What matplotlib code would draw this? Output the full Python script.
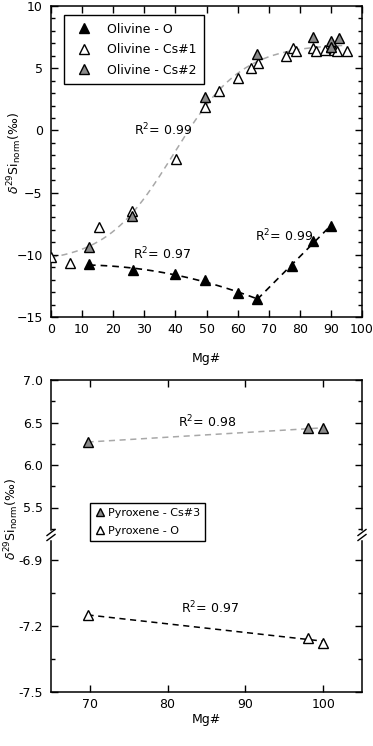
import numpy as np
import matplotlib
matplotlib.use('Agg')
import matplotlib.pyplot as plt
from matplotlib.ticker import MultipleLocator, FormatStrFormatter

# olivine data (Mg#, d29Si)
ol_o_x = [12.2, 26.3, 39.8, 49.4, 60.0, 66.3, 77.6, 84.3, 90.0]
ol_o_y = [-10.75, -11.25, -11.55, -12.05, -13.05, -13.55, -10.9, -8.9, -7.7]

ol_cs1_x = [0.0, 6.2, 15.5, 26.2, 40.1, 49.4, 54.0, 60.0, 64.2, 66.4, 75.6, 77.7, 78.8,
            84.3, 85.2, 88.1, 90.0, 91.1, 91.9, 95.1]
ol_cs1_y = [-10.2, -10.65, -7.8, -6.45, -2.3, 1.9, 3.2, 4.2, 5.05, 5.4, 6.0, 6.6, 6.4,
            6.65, 6.4, 6.45, 6.7, 6.5, 6.4, 6.4]

ol_cs2_x = [12.3, 26.2, 49.4, 66.3, 84.3, 90.0, 92.6, 90.0]
ol_cs2_y = [-9.35, -6.9, 2.7, 6.15, 7.5, 7.2, 7.4, 6.7]

# pyroxene data
px_cs3_x = [69.7, 98.1, 100.0]
px_cs3_y = [6.27, 6.43, 6.435]
px_o_x = [69.7, 98.1, 100.0]
px_o_y = [-7.15, -7.255, -7.275]

ylabel = r'$\delta^{29}$Si$_{\rm norm}$(‰)'
grey = '#8a8a8a'
dash_grey = '#a8a8a8'

plt.rcParams['font.family'] = ['DejaVu Sans']
plt.rcParams['font.size'] = 9

fig = plt.figure(figsize=(3.73, 7.46), dpi=100)
W, H = 373.0, 746.0


def box(x0, y0, x1, y1):
    return [x0 / W, 1 - y1 / H, (x1 - x0) / W, (y1 - y0) / H]


def style(ax):
    ax.tick_params(which='both', direction='in', top=True, right=True, labelsize=9,
                   width=1)
    ax.tick_params(axis='y', pad=6)
    ax.tick_params(axis='x', pad=4)
    ax.tick_params(which='major', length=5)
    ax.tick_params(which='minor', length=3)
    for s in ax.spines.values():
        s.set_linewidth(1.1)


def sigmoid_fit(x, y):
    # logistic y = a + b / (1 + exp(-(x - c) / d)), grid over c, d + linear lsq for a, b
    best = None
    for c in np.arange(20, 60, 0.25):
        for d in np.arange(4, 25, 0.25):
            s = 1 / (1 + np.exp(-(x - c) / d))
            A = np.column_stack([np.ones_like(s), s])
            coef, res, _, _ = np.linalg.lstsq(A, y, rcond=None)
            err = np.sum((A @ coef - y) ** 2)
            if best is None or err < best[0]:
                best = (err, coef, c, d)
    _, (a, b), c, d = best
    return lambda t: a + b / (1 + np.exp(-(t - c) / d))


# ---- top panel: olivine
ax = fig.add_axes(box(51, 6, 362, 317))
style(ax)

cs_x = np.array(ol_cs1_x + ol_cs2_x)
cs_y = np.array(ol_cs1_y + ol_cs2_y)
f = sigmoid_fit(cs_x, cs_y)
xx = np.linspace(0, 95, 200)
ax.plot(xx, f(xx), ls=(0, (4, 3)), color=dash_grey, lw=1.1, zorder=1)

ox = np.array(ol_o_x)
oy = np.array(ol_o_y)
p1 = np.polyfit(ox[:6], oy[:6], 2)
xx = np.linspace(ox[0], ox[5], 100)
ax.plot(xx, np.polyval(p1, xx), ls=(0, (4, 3)), color='black', lw=1.2, zorder=1)
p2 = np.polyfit(ox[5:], oy[5:], 1)
xx = np.linspace(ox[5], ox[-1], 50)
ax.plot(xx, np.polyval(p2, xx), ls=(0, (4, 3)), color='black', lw=1.2, zorder=1)

ms = 6.5
ax.plot(ol_o_x, ol_o_y, '^', color='black', mec='black', ms=ms, label='Olivine - O', zorder=3)
ax.plot(ol_cs1_x, ol_cs1_y, '^', mfc='white', mec='black', mew=1, ms=ms,
        label='Olivine - Cs#1', zorder=3)
ax.plot(ol_cs2_x, ol_cs2_y, '^', mfc=grey, mec='black', mew=1, ms=ms,
        label='Olivine - Cs#2', zorder=3)

ax.text(26.8, 0, r'R$^2$= 0.99', va='center', ha='left', fontsize=9)
ax.text(26.5, -9.9, r'R$^2$= 0.97', va='center', ha='left', fontsize=9)
ax.text(65.5, -8.5, r'R$^2$= 0.99', va='center', ha='left', fontsize=9)

ax.set_xlim(0, 100)
ax.set_ylim(-15, 10)
ax.xaxis.set_major_locator(MultipleLocator(10))
ax.yaxis.set_major_locator(MultipleLocator(5))
ax.yaxis.set_minor_locator(MultipleLocator(1))
ax.set_xlabel('Mg#', labelpad=12)
fig.text(15 / W, 1 - 153 / H, ylabel, rotation=90, ha='center', va='center', fontsize=9)
leg = ax.legend(loc='upper left', bbox_to_anchor=(0.042, 0.971), borderaxespad=0,
                fancybox=False, edgecolor='black', framealpha=1, fontsize=9,
                handletextpad=0.8, borderpad=0.6, labelspacing=0.6)
leg.get_frame().set_linewidth(1)

# ---- bottom panel: pyroxene with broken y axis
brk = 535
axu = fig.add_axes(box(51, 380, 362, brk))
axl = fig.add_axes(box(51, brk, 362, 692))
for a in (axu, axl):
    style(a)
    a.set_xlim(65, 105)
    a.xaxis.set_major_locator(MultipleLocator(10))
axu.spines['bottom'].set_visible(False)
axl.spines['top'].set_visible(False)
axu.tick_params(which='both', bottom=False, labelbottom=False)
axl.tick_params(which='both', top=False)

axu.set_ylim(7.0 - 155 / 85.0, 7.0)
axu.yaxis.set_major_locator(MultipleLocator(0.5))
axu.yaxis.set_minor_locator(MultipleLocator(0.25))
axu.yaxis.set_major_formatter(FormatStrFormatter('%.1f'))
axl.set_ylim(-7.5, -6.9 + 25 / 220.0)
axl.set_yticks([-7.5, -7.2, -6.9])
axl.set_yticks([-7.35, -7.05], minor=True)
axl.yaxis.set_major_formatter(FormatStrFormatter('%.1f'))

q = np.polyfit(px_cs3_x, px_cs3_y, 1)
xx = np.array([px_cs3_x[0], px_cs3_x[-1]])
axu.plot(xx, np.polyval(q, xx), ls=(0, (4, 3)), color=dash_grey, lw=1.1, zorder=1)
q = np.polyfit(px_o_x, px_o_y, 1)
axl.plot(xx, np.polyval(q, xx), ls=(0, (4, 3)), color='black', lw=1.1, zorder=1)

h1, = axu.plot(px_cs3_x, px_cs3_y, '^', mfc=grey, mec='black', mew=1, ms=ms, zorder=3)
h2, = axl.plot(px_o_x, px_o_y, '^', mfc='white', mec='black', mew=1, ms=ms, zorder=3)

axu.text(81.3, 6.5, r'R$^2$= 0.98', va='center', ha='left', fontsize=9)
axl.text(81.7, -7.12, r'R$^2$= 0.97', va='center', ha='left', fontsize=9)

axl.set_xlabel('Mg#', labelpad=2)
fig.text(12 / W, 1 - 519 / H, ylabel, rotation=90, ha='center', va='center', fontsize=9)

leg2 = fig.legend([h1, h2], ['Pyroxene - Cs#3', 'Pyroxene - O'], loc='upper left',
                  bbox_to_anchor=(90 / W, 1 - 503 / H), borderaxespad=0,
                  fancybox=False, edgecolor='black', framealpha=1, fontsize=8,
                  handletextpad=0.3, handlelength=0.9, borderpad=0.45, labelspacing=0.75,
                  markerscale=0.8)
leg2.get_frame().set_linewidth(1)

# break marks
for xp in (51, 362):
    fig.add_artist(plt.Line2D([xp / W, xp / W], [1 - (brk - 3) / H, 1 - (brk + 3) / H],
                              color='white', lw=2.5))
    for dy in (-2.5, 2.5):
        fig.add_artist(plt.Line2D([(xp - 4) / W, (xp + 4) / W],
                                  [1 - (brk + dy + 3) / H, 1 - (brk + dy - 3) / H],
                                  color='black', lw=1))

fig.savefig('out.png', dpi=100)
